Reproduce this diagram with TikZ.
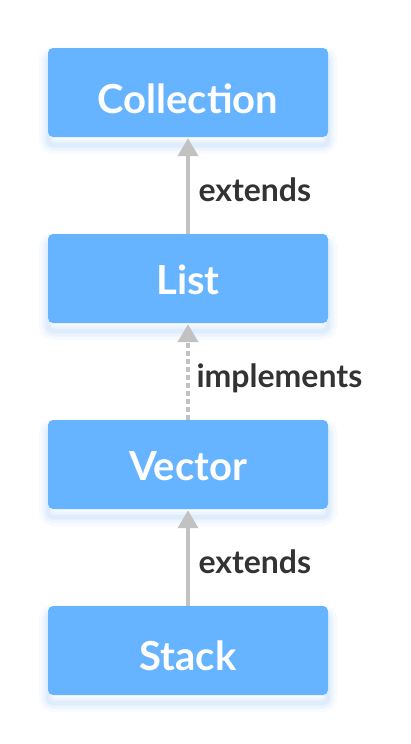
\documentclass[tikz,border=0pt]{standalone}
\usepackage{fontspec}
\setmainfont{Lato}
\usetikzlibrary{arrows.meta}
\definecolor{boxblue}{HTML}{66B3FF}
\definecolor{arrowgrey}{HTML}{C2C2C2}
\definecolor{labeltext}{HTML}{333333}
\definecolor{shadowcol}{HTML}{5E9FF0}
\newcommand{\lowertext}[2]{\raisebox{-#1}[\height][0pt]{#2}}
\tikzset{
  classbox/.style={fill=boxblue, rounded corners=5pt, minimum width=280pt, minimum height=89pt,
    inner sep=0pt, text=white, font=\fontsize{40}{44}\selectfont\bfseries,
    preaction={draw=shadowcol, line width=18pt, draw opacity=0.05, transform canvas={yshift=-8pt}},
    preaction={draw=shadowcol, line width=11pt, draw opacity=0.07, transform canvas={yshift=-8pt}},
    preaction={draw=shadowcol, line width=5pt, draw opacity=0.09, transform canvas={yshift=-8pt}}},
  relarrow/.style={draw=arrowgrey, line width=4pt, -{Triangle[width=20pt,length=18pt]}, shorten >=1pt},
  dashrel/.style={relarrow, dash pattern=on 5pt off 3pt},
  rellabel/.style={anchor=base west, text=labeltext, inner sep=0pt, font=\fontsize{32}{36}\selectfont\bfseries},
}
\begin{document}
\begin{tikzpicture}[x=1pt,y=1pt]
\useasboundingbox (0,0) rectangle (410,-744);
\node[classbox] (collection) at (188,-92.5) {\lowertext{6.5pt}{Collection}};
\node[classbox] (list) at (188,-278.5) {\lowertext{1pt}{List}};
\node[classbox] (vector) at (188,-464.5) {\lowertext{1.5pt}{Vector}};
\node[classbox] (stack) at (188,-650.5) {\lowertext{5.5pt}{Stack}};
\draw[relarrow] (list.north) -- (collection.south) node[rellabel, pos=0.33, xshift=8.5pt] {extends};
\draw[dashrel] (vector.north) -- (list.south) node[rellabel, pos=0.33, xshift=6.5pt] {implements};
\draw[relarrow] (stack.north) -- (vector.south) node[rellabel, pos=0.33, xshift=8.5pt] {extends};
\end{tikzpicture}
\end{document}
